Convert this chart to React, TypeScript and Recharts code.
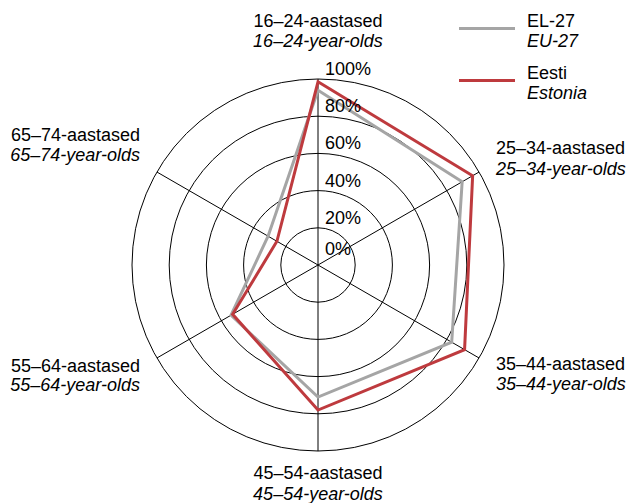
import { RadarChart, Radar, PolarGrid, PolarAngleAxis, PolarRadiusAxis, Legend } from "recharts";

const ageGroups = ["16–24", "25–34", "35–44", "45–54", "55–64", "65–74"];
const euValues = [94, 89.5, 83, 71, 54, 31];
const estoniaValues = [98.5, 96, 91, 78, 53, 25.5];
const radiusTicks = [0, 20, 40, 60, 80, 100];
const seriesNamesEt = ["EL-27", "Eesti"];
const seriesNamesEn = ["EU-27", "Estonia"];

const EU_COLOR = "#a5a5a5";
const EE_COLOR = "#be3a3e";
const FONT = "'Liberation Sans', Arial, sans-serif";

const data = ageGroups.map((g, i) => ({ group: g, eu: euValues[i], ee: estoniaValues[i] }));

// label nudges per axis: [dx, dy first line, dy second line, anchor]
const labelOffsets: [number, number, number, string][] = [
  [0, -44, -24, "middle"],
  [10, -14, 7, "start"],
  [10, 8, 28, "start"],
  [0, 20, 41, "middle"],
  [-10, 10, 29, "end"],
  [-10, -27, -7, "end"],
];

function AngleTick(props: any) {
  const { x, y, payload, index } = props;
  const [dx, dy1, dy2, anchor] = labelOffsets[index] ?? [0, 0, 18, "middle"];
  return (
    <g fontFamily={FONT} fontSize={18} fill="#000">
      <text x={x + dx} y={y + dy1} textAnchor={anchor}>
        {`${payload.value}-aastased`}
      </text>
      <text x={x + dx} y={y + dy2} textAnchor={anchor} fontStyle="italic">
        {`${payload.value}-year-olds`}
      </text>
    </g>
  );
}

function RadiusTick(props: any) {
  const { x, y, payload } = props;
  // the 0% label sits a bit higher off the centre point
  const lift = payload.value === 0 ? 10 : 4;
  return (
    <text x={x + 7} y={y - lift} textAnchor="start" fontFamily={FONT} fontSize={18} fill="#000">
      {`${payload.value}%`}
    </text>
  );
}

function LegendBox() {
  const colors = [EU_COLOR, EE_COLOR];
  return (
    <svg width={171} height={105} style={{ display: "block" }}>
      {seriesNamesEt.map((name, i) => {
        const base = i * 52;
        return (
          <g key={name} fontFamily={FONT} fontSize={18} fill="#000">
            <line x1={0} x2={56} y1={base + 28.5} y2={base + 28.5} stroke={colors[i]} strokeWidth={3} />
            <text x={68} y={base + 27}>{name}</text>
            <text x={68} y={base + 47} fontStyle="italic">{seriesNamesEn[i]}</text>
          </g>
        );
      })}
    </svg>
  );
}

export default function App() {
  return (
    <div style={{ position: "absolute", left: 0, top: 0, width: 630, height: 503, background: "#fff" }}>
      <RadarChart
        width={630}
        height={503}
        data={data}
        cx={318}
        cy={265}
        outerRadius={186}
        margin={{ top: 0, right: 0, bottom: 0, left: 0 }}
      >
        <PolarGrid gridType="circle" stroke="#000" strokeWidth={1} />
        <PolarAngleAxis dataKey="group" tick={<AngleTick />} tickLine={false} axisLine={false} />
        <PolarRadiusAxis
          angle={90}
          domain={[0, 100]}
          ticks={radiusTicks}
          tick={<RadiusTick />}
          axisLine={false}
          tickLine={false}
        />
        <Radar
          name="EU-27"
          dataKey="eu"
          stroke={EU_COLOR}
          strokeWidth={3}
          fill="none"
          fillOpacity={0}
          dot={false}
          isAnimationActive={false}
        />
        <Radar
          name="Estonia"
          dataKey="ee"
          stroke={EE_COLOR}
          strokeWidth={3}
          fill="none"
          fillOpacity={0}
          dot={false}
          isAnimationActive={false}
        />
        <Legend
          layout="vertical"
          align="center"
          verticalAlign="middle"
          wrapperStyle={{ top: 0, left: 459 }}
          content={<LegendBox />}
        />
      </RadarChart>
    </div>
  );
}
